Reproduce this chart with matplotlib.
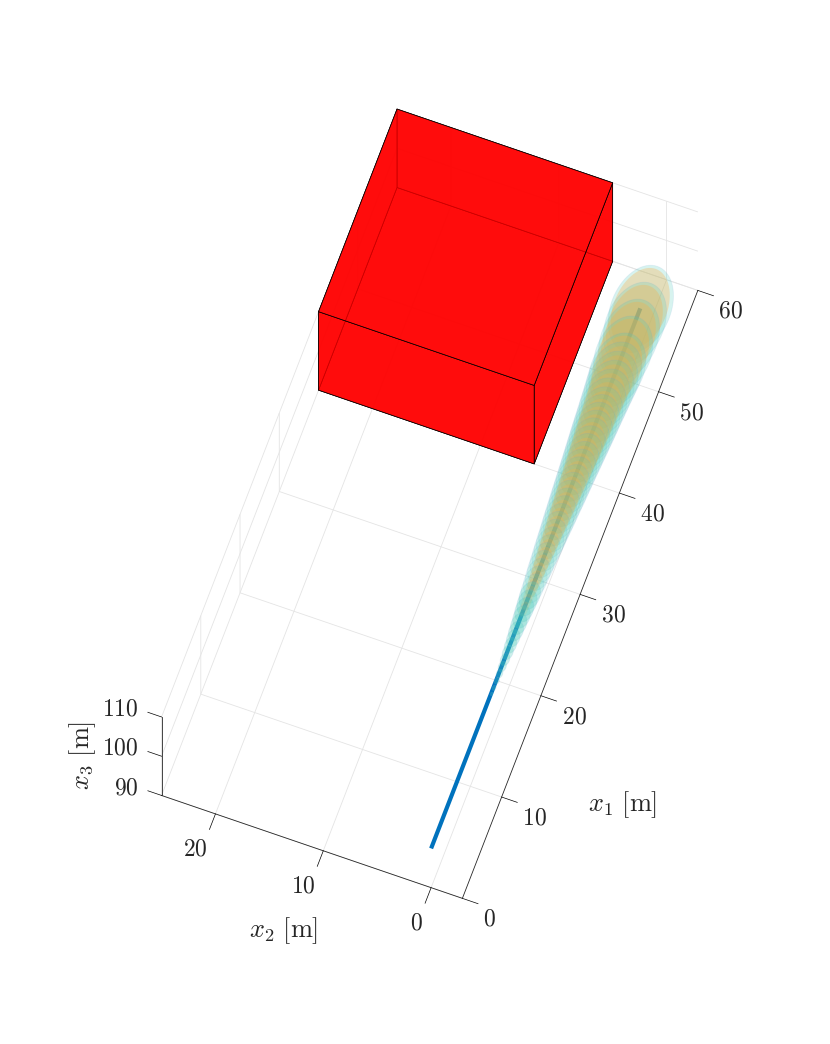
import numpy as np
import matplotlib
matplotlib.use('Agg')
import matplotlib.pyplot as plt
from mpl_toolkits.mplot3d import proj3d
from mpl_toolkits.mplot3d.art3d import Poly3DCollection

plt.rcParams['mathtext.fontset'] = 'cm'
plt.rcParams['font.family'] = ['DejaVu Serif']

# Data
x1_ticks = [0, 10, 20, 30, 40, 50, 60]
x2_ticks = [0, 10, 20]
x3_ticks = [90, 100, 110]

path_x1 = [0.0, 53.3]
path_x2 = [0.0, 0.0]
path_x3 = [100.0, 100.0]

box_x1 = [40, 60]
box_x2 = [5, 25]
box_x3 = [90, 110]

# ellipsoid centres along the path and their semi axes
center_x1 = [53.3, 51.8, 50.3, 48.8, 47.3, 46.5, 45.7, 44.9, 44.1, 43.3, 42.5, 41.8, 41.1,
             40.4, 39.7, 39.0, 38.3, 37.6, 36.9, 36.2, 35.5, 34.8, 34.1, 33.4, 32.7, 32.0,
             31.3, 30.6, 29.9, 29.2, 28.5, 27.8, 27.1, 26.4, 25.7, 25.0, 24.3, 23.6, 22.9,
             22.2, 21.5, 20.8, 20.1, 19.4, 18.7, 18.0, 17.3, 16.6, 15.9, 15.3]
semi_x1 = [4.20, 4.03, 3.86, 3.69, 3.53, 3.44, 3.34, 3.25, 3.18, 3.10, 3.02, 2.96, 2.90,
           2.83, 2.77, 2.69, 2.63, 2.55, 2.49, 2.43, 2.37, 2.31, 2.23, 2.17, 2.11, 2.04,
           1.96, 1.90, 1.84, 1.76, 1.69, 1.63, 1.55, 1.47, 1.40, 1.34, 1.26, 1.19, 1.09,
           1.02, 0.94, 0.85, 0.78, 0.70, 0.61, 0.52, 0.43, 0.33, 0.26, 0.18]
semi_x2 = [2.62, 2.54, 2.46, 2.40, 2.32, 2.26, 2.20, 2.14, 2.09, 2.04, 1.99, 1.95, 1.91,
           1.86, 1.82, 1.77, 1.73, 1.68, 1.64, 1.60, 1.56, 1.52, 1.47, 1.43, 1.39, 1.34,
           1.29, 1.25, 1.21, 1.16, 1.11, 1.07, 1.02, 0.97, 0.92, 0.88, 0.83, 0.78, 0.72,
           0.67, 0.62, 0.56, 0.51, 0.46, 0.40, 0.34, 0.28, 0.22, 0.17, 0.12]

# Plot
fig = plt.figure(figsize=(8.3, 10.44), dpi=100, facecolor='w')
ax = fig.add_axes([34.3/830, 144.9/1044, 770/830, 770/1044], projection='3d',
                  proj_type='ortho', computed_zorder=False)
ax.view_init(elev=70, azim=-160)
ax.set_xlim(0, 60, view_margin=0)
ax.set_ylim(-2.9, 25, view_margin=0)
ax.set_zlim(90, 110, view_margin=0)
ax.set_box_aspect((60, 27.9, 20), zoom=1)
ax.patch.set_alpha(0)

ax.plot(path_x1, path_x2, path_x3, color='#0072BD', lw=3, solid_capstyle='butt', zorder=1)

# Ellipsoid outlines, biggest first
t = np.linspace(0, 2*np.pi, 73)
z = 2
for i, (c, a, b) in enumerate(zip(center_x1, semi_x1, semi_x2)):
    if i < 5:
        teal_a, orange_a, inset_a, inset_b = 0.22, 0.3, 0.3, 0.28
    elif b > 0.9:
        teal_a, orange_a, inset_a, inset_b = 0.16, 0.24, 0.45, 0.42
    else:
        teal_a, orange_a, inset_a, inset_b = 0.28, 0.14, 0.45, 0.42
    outer = list(zip(c + a*np.cos(t), b*np.sin(t), 100 + 0*t))
    ax.add_collection3d(Poly3DCollection([outer], facecolor=(0.30, 0.80, 0.73, teal_a),
                                         edgecolor=(0.45, 0.65, 0.85, 0.14), linewidth=0.6,
                                         zorder=z))
    if b > 0.75:
        inner = list(zip(c + (a - inset_a)*np.cos(t), (b - inset_b)*np.sin(t), 100 + 0*t))
        ax.add_collection3d(Poly3DCollection([inner], facecolor=(1.0, 0.68, 0.25, orange_a),
                                             edgecolor='none', zorder=z + 1))
    z += 2

# Red box
x0, x1 = box_x1
y0, y1 = box_x2
z0, z1 = box_x3
faces = [[(x0, y0, z0), (x1, y0, z0), (x1, y1, z0), (x0, y1, z0)],
         [(x0, y0, z0), (x1, y0, z0), (x1, y0, z1), (x0, y0, z1)],
         [(x0, y1, z0), (x1, y1, z0), (x1, y1, z1), (x0, y1, z1)],
         [(x0, y0, z0), (x0, y1, z0), (x0, y1, z1), (x0, y0, z1)],
         [(x1, y0, z0), (x1, y1, z0), (x1, y1, z1), (x1, y0, z1)],
         [(x0, y0, z1), (x1, y0, z1), (x1, y1, z1), (x0, y1, z1)]]
box = Poly3DCollection(faces, facecolor=(1, 0, 0, 0.78), edgecolor='k', linewidth=0.5, zorder=200)
ax.add_collection3d(box)
box.set_clip_on(False)

# Axes decoration
tick_col = '#262626'
ax.set_xticks(x1_ticks)
ax.set_yticks(x2_ticks)
ax.set_zticks(x3_ticks)
ax.set_xticklabels([r'$\;%d$' % t for t in x1_ticks], fontsize=17, color=tick_col, ha='left', va='top')
ax.set_yticklabels(['$%d$' % t for t in x2_ticks], fontsize=17, color=tick_col, ha='right', va='top')
for axis, out, pos in zip((ax.xaxis, ax.yaxis, ax.zaxis), (-0.65, -0.32, 0.57),
                          ('lower', 'lower', 'upper')):
    axis.set_ticks_position(pos)
    axis.set_pane_color((1, 1, 1, 0))
    axis.pane.set_edgecolor((1, 1, 1, 0))
    axis.line.set_color(tick_col)
    axis.line.set_linewidth(0.6)
    axis._axinfo['grid'].update(color='#e4e4e4', linewidth=0.6)
    axis._axinfo['tick'].update(inward_factor=0, outward_factor=out,
                                linewidth={True: 0.5, False: 0.5}, color=tick_col)
# ticks of x3 run along x2 as in the original
ax.zaxis._get_tickdir = lambda pos: 1
ax.tick_params(axis='x', pad=7)
ax.tick_params(axis='y', pad=1.9)
ax.zaxis.set_tick_params(label1On=False)

# x3 tick labels sit beside the axis, just past the ticks
for val in x3_ticks:
    px, py, _ = proj3d.proj_transform(0, 27.1, val, ax.get_proj())
    ax.text2D(px, py, '$%d$' % val, transform=ax.transData, fontsize=17, color=tick_col,
              ha='right', va='center')

fig.text(623/830, 1-805/1044, r'$x_1\ \mathrm{[m]}$', fontsize=19, color=tick_col, ha='center', va='center')
fig.text(284/830, 1-931/1044, r'$x_2\ \mathrm{[m]}$', fontsize=19, color=tick_col, ha='center', va='center')
fig.text(83/830, 1-755/1044, r'$x_3\ \mathrm{[m]}$', fontsize=19, color=tick_col, ha='center', va='center', rotation=90)

fig.savefig('out.png', dpi=100)
